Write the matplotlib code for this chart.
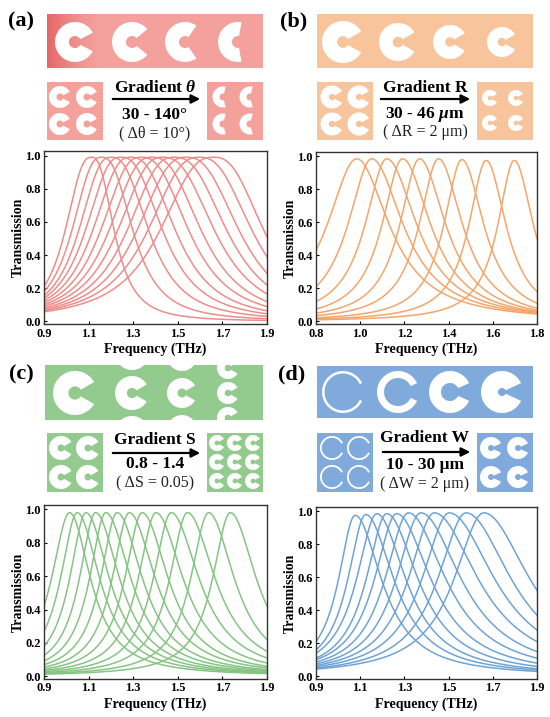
import numpy as np
import matplotlib
matplotlib.use('Agg')
import matplotlib.pyplot as plt
from matplotlib.patches import Rectangle, Wedge

plt.rcParams['font.family'] = 'Liberation Serif'
plt.rcParams['font.weight'] = 'bold'
plt.rcParams['mathtext.fontset'] = 'custom'
plt.rcParams['mathtext.rm'] = 'Liberation Serif:bold'
plt.rcParams['mathtext.it'] = 'Liberation Serif:italic:bold'

# --- donnees : pic, amplitude, valeur au bord gauche / droit ---
# (a) gradient theta, 30 - 140 deg
a_pic = [1.113, 1.158, 1.200, 1.243, 1.288, 1.335, 1.383, 1.432, 1.483, 1.537, 1.596, 1.660]
a_amp = [0.99, 0.99, 0.99, 0.99, 0.99, 0.99, 0.99, 0.99, 0.99, 0.99, 0.99, 0.99]
a_gauche = [0.21, 0.18, 0.155, 0.14, 0.125, 0.112, 0.10, 0.09, 0.08, 0.072, 0.065, 0.058]
a_droite = [0.006, 0.016, 0.03, 0.046, 0.064, 0.09, 0.12, 0.166, 0.22, 0.29, 0.39, 0.51]

# (b) gradient R, 30 - 46 um
b_pic = [0.984, 1.052, 1.120, 1.191, 1.268, 1.354, 1.460, 1.570, 1.697]
b_amp = [0.985, 0.985, 0.985, 0.985, 0.985, 0.985, 0.98, 0.975, 0.975]
b_gauche = [0.43, 0.21, 0.12, 0.075, 0.05, 0.035, 0.022, 0.015, 0.01]
b_droite = [0.045, 0.05, 0.055, 0.06, 0.068, 0.08, 0.11, 0.18, 0.5]

# (c) gradient S, 0.8 - 1.4
c_pic = [1.015, 1.049, 1.088, 1.131, 1.177, 1.228, 1.282, 1.340, 1.402, 1.470, 1.543, 1.638, 1.735]
c_amp = [0.98, 0.98, 0.98, 0.98, 0.98, 0.98, 0.98, 0.98, 0.98, 0.98, 0.98, 0.98, 0.98]
c_gauche = [0.42, 0.27, 0.18, 0.125, 0.092, 0.07, 0.055, 0.044, 0.035, 0.028, 0.022, 0.017, 0.013]
c_droite = [0.016, 0.02, 0.024, 0.028, 0.034, 0.04, 0.05, 0.06, 0.08, 0.11, 0.15, 0.22, 0.42]

# (d) gradient W, 10 - 30 um
d_pic = [1.077, 1.125, 1.175, 1.220, 1.265, 1.318, 1.374, 1.435, 1.503, 1.579, 1.659]
d_amp = [0.975, 0.98, 0.985, 0.985, 0.985, 0.99, 0.99, 0.99, 0.99, 0.99, 0.99]
d_gauche = [0.21, 0.16, 0.14, 0.11, 0.10, 0.086, 0.075, 0.066, 0.058, 0.05, 0.044]
d_droite = [0.03, 0.038, 0.046, 0.06, 0.08, 0.11, 0.15, 0.21, 0.28, 0.37, 0.52]

# exposant de la queue des resonances (a plus raide)
a_expo, b_expo, c_expo, d_expo = 2.6, 2.0, 2.0, 2.0

# couleurs
a_fond, a_trait = '#F4A19C', '#EF8C8A'
b_fond, b_trait = '#F7C49C', '#F3A66B'
c_fond, c_trait = '#93CA8E', '#86C483'
d_fond, d_trait = '#80AADB', '#6FA3D5'

fig = plt.figure(figsize=(5.5, 7.17), dpi=100)
fond = fig.add_axes([0, 0, 1, 1])
fond.axis('off')


def forme_c(x, y, r, ouverture, trou, clip=None):
    w = Wedge((x, y), r, ouverture / 2, 360 - ouverture / 2, width=r - trou,
              facecolor='white', edgecolor='none', zorder=3)
    fond.add_patch(w)
    if clip is not None:
        w.set_clip_path(clip)


def boite(x0, y0, x1, y1, couleur):
    rect = Rectangle((x0, y0), x1 - x0, y1 - y0, facecolor=couleur, edgecolor='none', zorder=1)
    fond.add_patch(rect)
    return rect


def textes(xc, y_haut, y_fleche, y_mil, y_bas, x0, x1, t1, t2, t3):
    fond.text(xc, y_haut, t1, ha='center', va='center', fontsize=12.5, fontweight='bold')
    fond.annotate('', xy=(x1, y_fleche), xytext=(x0, y_fleche),
                  arrowprops=dict(arrowstyle='-|>', lw=1.6, color='black', mutation_scale=13))
    fond.text(xc, y_mil, t2, ha='center', va='center', fontsize=12.5, fontweight='bold')
    fond.text(xc, y_bas, t3, ha='center', va='center', fontsize=11.5, fontweight='normal', color='#222222')


# ---- (a) ----
grad = np.ones((1, 200, 3))
teinte_g = np.array([0.90, 0.40, 0.40])
teinte_d = np.array([0.957, 0.631, 0.612])
for k in range(200):
    t = min(1.0, k / 50.0)
    grad[0, k] = teinte_g * (1 - t) ** 1.5 + teinte_d * (1 - (1 - t) ** 1.5)
fond.imshow(grad, extent=(47, 263, 68, 14), aspect='auto', zorder=1)
for x, ouv in zip([75, 132, 185, 238], [55, 80, 110, 160]):
    forme_c(x, 42, 20, ouv, 6)
boite(47, 82, 103, 140, a_fond)
boite(207, 82, 263, 140, a_fond)
for x in [60, 87]:
    for y in [97, 124]:
        forme_c(x, y, 11, 55, 3.5)
for x in [223, 250]:
    for y in [97, 124]:
        forme_c(x, y, 10.5, 150, 3.5)
textes(155, 88, 99, 115, 133, 110, 203, r'Gradient $\theta$', '30 - 140°', '( Δθ = 10°)')

# ---- (b) ----
boite(317, 14, 533, 68, b_fond)
for x, r in zip([343, 398, 450, 502], [21, 19, 17, 15]):
    forme_c(x, 42, r, 60, 0.28 * r)
boite(317, 82, 373, 140, b_fond)
boite(477, 82, 533, 140, b_fond)
for x in [332, 359]:
    for y in [97, 124]:
        forme_c(x, y, 11.5, 60, 3.2)
for x in [490, 516]:
    for y in [98, 123]:
        forme_c(x, y, 8, 60, 2.3)
textes(425, 88, 99, 114, 132, 378, 473, 'Gradient R', r'30 - 46 $\mu$m', '( ΔR = 2 μm)')

# ---- (c) ----
barre_c = boite(45, 365, 263, 420, c_fond)
for x, r, per in zip([75, 132, 182, 228], [22, 17, 15, 11], [80, 40, 37, 25]):
    for k in [-1, 0, 1]:
        forme_c(x, 393 + k * per, r, 60, 0.3 * r, clip=barre_c)
boite(47, 433, 103, 492, c_fond)
boite(207, 433, 263, 492, c_fond)
for x in [61, 88]:
    for y in [448, 477]:
        forme_c(x, y, 12, 60, 3.5)
for x in [217, 235, 253]:
    for y in [443, 462, 481]:
        forme_c(x, y, 8, 60, 2.4)
textes(155, 440, 453, 464, 483, 110, 203, 'Gradient S', '0.8 - 1.4', '( ΔS = 0.05)')

# ---- (d) ----
boite(317, 366, 533, 418, d_fond)
for x, larg in zip([343, 398, 450, 502], [2.5, 7, 12, 17]):
    forme_c(x, 392, 21, 50, 21 - larg)
boite(317, 433, 373, 492, d_fond)
boite(477, 433, 533, 492, d_fond)
for x in [332, 359]:
    for y in [448, 477]:
        forme_c(x, y, 12, 50, 10.2)
for x in [491, 518]:
    for y in [448, 477]:
        forme_c(x, y, 11, 50, 3)
textes(425, 438, 452, 465, 484, 380, 473, 'Gradient W', '10 - 30 μm', '( ΔW = 2 μm)')

# etiquettes des panneaux
for lab, x, y in [('(a)', 21, 21), ('(b)', 294, 21), ('(c)', 21, 374), ('(d)', 292, 374)]:
    fond.text(x, y, lab, ha='center', va='center', fontsize=16, fontweight='bold')

fond.set_xlim(0, 550)
fond.set_ylim(717, 0)


def spectre(pos, pics, amps, gauches, droites, xlim, expo, couleur, xticks):
    ax = fig.add_axes(pos)
    f = np.linspace(xlim[0], xlim[1], 800)
    for f0, a, tg, td in zip(pics, amps, gauches, droites):
        gg = (f0 - xlim[0]) / (a / tg - 1) ** (1 / expo)
        gd = (xlim[1] - f0) / (a / td - 1) ** (1 / expo)
        g = np.where(f < f0, gg, gd)
        ax.plot(f, a / (1 + np.abs((f - f0) / g) ** expo), color=couleur, lw=1.1)
    ax.set_xlim(*xlim)
    ax.set_ylim(-0.016, 1.026)
    ax.set_xticks(xticks)
    ax.set_xticklabels(['%.1f' % v for v in xticks])
    ax.set_yticks([0, 0.2, 0.4, 0.6, 0.8, 1.0])
    ax.set_yticklabels(['0.0', '0.2', '0.4', '0.6', '0.8', '1.0'])
    ax.tick_params(direction='in', length=2.5, width=0.8, labelsize=9, pad=2.5)
    for s in ax.spines.values():
        s.set_color('#333333')
        s.set_linewidth(1.0)
    ax.set_xlabel('Frequency (THz)', fontsize=10, fontweight='bold', labelpad=2)
    ax.set_ylabel('Transmission', fontsize=10, fontweight='bold', labelpad=0)
    return ax


tick_a = [0.9, 1.1, 1.3, 1.5, 1.7, 1.9]
tick_b = [0.8, 1.0, 1.2, 1.4, 1.6, 1.8]
spectre([0.080, 0.548, 0.4055, 0.241], a_pic, a_amp, a_gauche, a_droite, (0.9, 1.9), a_expo, a_trait, tick_a)
spectre([0.5745, 0.548, 0.402, 0.240], b_pic, b_amp, b_gauche, b_droite, (0.8, 1.8), b_expo, b_trait, tick_b)
spectre([0.080, 0.053, 0.4055, 0.2427], c_pic, c_amp, c_gauche, c_droite, (0.9, 1.9), c_expo, c_trait, tick_a)
spectre([0.5745, 0.053, 0.402, 0.240], d_pic, d_amp, d_gauche, d_droite, (0.9, 1.9), d_expo, d_trait, tick_a)

fig.savefig('out.png', dpi=100)
